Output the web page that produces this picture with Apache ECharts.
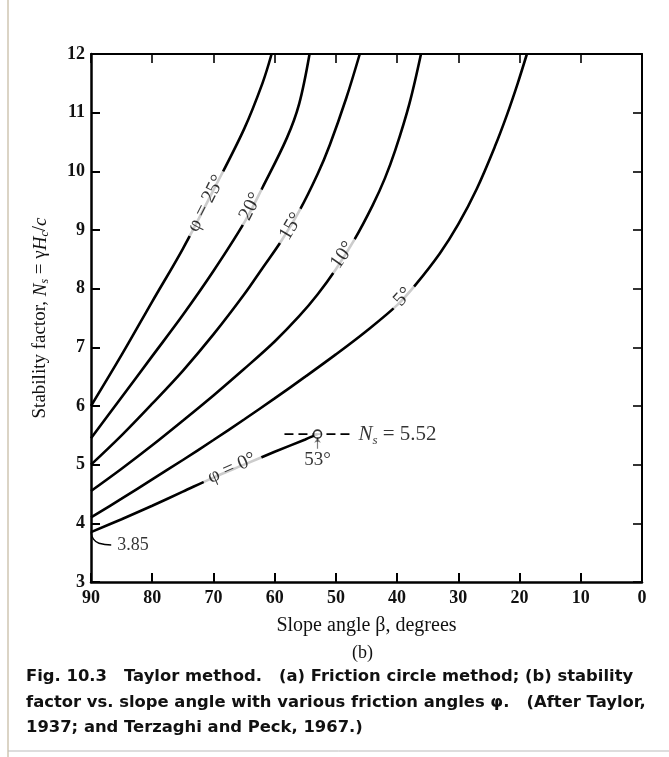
<!DOCTYPE html>
<html><head><meta charset="utf-8">
<script src="https://cdn.jsdelivr.net/npm/echarts@6/dist/echarts.min.js"></script>
<style>html,body{margin:0;padding:0;background:#fff}#c{width:669px;height:757px}</style>
</head><body><div id="c"></div>
<script>
// Slope angle beta (deg) vs stability factor Ns for friction angles phi
const phi0  = [[90,3.85],[85,4.07],[80,4.3],[75,4.54],[70,4.78],[65,5.0],[60,5.22],[55,5.43],[53,5.52]];
const phi5  = [[90,4.1],[85,4.42],[80,4.75],[75,5.08],[70,5.42],[65,5.77],[60,6.13],[55,6.5],[50,6.88],[45,7.28],[40,7.72],[37,8.065],[33,8.605],[30,9.1],[27,9.7],[24,10.43],[22,10.98],[20.3,11.5],[18.8,12.0]];
const phi10 = [[90,4.55],[85,4.93],[80,5.33],[75,5.75],[70,6.18],[65,6.63],[60,7.1],[56,7.53],[53,7.9],[50,8.33],[47,8.83],[44,9.42],[42,9.88],[40.3,10.36],[38,11.15],[36.1,12.0]];
const phi15 = [[90,5.0],[85,5.5],[80,6.04],[75,6.6],[70,7.22],[65,7.9],[62,8.35],[59,8.8],[56,9.32],[53,9.95],[51,10.45],[48.3,11.25],[46.1,12.0]];
const phi20 = [[90,5.45],[85,6.15],[80,6.85],[75,7.55],[70,8.3],[65,9.12],[62,9.72],[58,10.57],[56,11.15],[54.3,12.0]];
const phi25 = [[90,6.0],[85,6.87],[80,7.78],[75,8.68],[70,9.68],[65,10.72],[62,11.5],[60.5,12.0]];

const curveNames = ['φ = 0°','5°','10°','15°','20°','φ = 25°'];
const curveLabelAt = [[67.0,4.94],[39.0,7.86],[48.9,8.57],[57.3,9.06],[63.9,9.4],[71.2,9.45]];
const curveLabelAngle = [24,48,55,59,63,63];

const criticalPoint = [53,5.52];
const criticalDash = [[58.4,5.52],[47.3,5.52]];
const angleText = '53°';
const angleArrow = [[53,5.27],[53,5.46]];
const angleTextAt = [53,5.08];
const startText = '3.85';
const startLeader = [[90,3.85],[89.6,3.73],[88.7,3.66],[86.7,3.63]];

const xTitle = 'Slope angle β, degrees';
const yTitle = 'Stability factor, {i|N}{s|s} = γ{i|H}{s|c}/{i|c}';
const panelTag = '(b)';
const caption = [
  'Fig. 10.3   Taylor method.   (a) Friction circle method; (b) stability',
  'factor vs. slope angle with various friction angles φ.   (After Taylor,',
  '1937; and Terzaghi and Peck, 1967.)'
];

const serif = '"Liberation Serif","DejaVu Serif",serif';
const capFont = 'bold 16.4px "DejaVu Sans","Liberation Sans",sans-serif';
const chart = echarts.init(document.getElementById('c'), null, {renderer:'canvas'});
const curves = [phi0,phi5,phi10,phi15,phi20,phi25];

const series = [];
curves.forEach((d,i)=>{
  series.push({type:'line', data:d, smooth:0.35, showSymbol:false, silent:true,
    lineStyle:{color:'#000', width:2.6}, z:2});
});
series.push({type:'scatter', silent:true, z:6, symbolSize:0,
  data: curveLabelAt.map((p,i)=>({value:p, label:{rotate:curveLabelAngle[i], formatter:curveNames[i]}})),
  label:{show:true, position:'inside', fontFamily:serif, fontSize:20, color:'#000', backgroundColor:'#fff', padding:[0,6]}
});
series.push({type:'line', data:criticalDash, showSymbol:false, silent:true, z:3,
  lineStyle:{color:'#000', width:1.6, type:[9,5]}});
series.push({type:'scatter', data:[criticalPoint], symbol:'circle', symbolSize:8, silent:true, z:7,
  itemStyle:{color:'#fff', borderColor:'#000', borderWidth:1.6}});
series.push({type:'scatter', data:[criticalDash[1]], symbolSize:0, silent:true, z:7,
  label:{show:true, position:'right', distance:6, formatter:'{i|N}{s|s}{t| = 5.52}',
    rich:{i:{fontFamily:serif, fontStyle:'italic', fontSize:21, color:'#000'},
          s:{fontFamily:serif, fontStyle:'italic', fontSize:13, color:'#000', padding:[13,0,0,0]},
          t:{fontFamily:serif, fontSize:21, color:'#000'}}}});
series.push({type:'lines', coordinateSystem:'cartesian2d', silent:true, z:6,
  data:[{coords:angleArrow}], symbol:['none','arrow'], symbolSize:5,
  lineStyle:{color:'#000', width:1.2}});
series.push({type:'scatter', data:[angleTextAt], symbolSize:0, silent:true, z:7,
  label:{show:true, position:'inside', formatter:angleText, fontFamily:serif, fontSize:19, color:'#000'}});
series.push({type:'line', data:startLeader, smooth:0.5, showSymbol:false, silent:true, z:3,
  lineStyle:{color:'#000', width:1.4}});
series.push({type:'scatter', data:[startLeader[startLeader.length-1]], symbolSize:0, silent:true, z:7,
  label:{show:true, position:'right', distance:6, formatter:startText, fontFamily:serif, fontSize:18, color:'#000'}});

const axisLabelStyle = {fontFamily:serif, fontSize:18, fontWeight:'bold', color:'#111'};
chart.setOption({
  backgroundColor:'#fff',
  animation:false,
  grid:{left:91, right:27, top:54, bottom:175},
  xAxis:[
    {type:'value', min:0, max:90, interval:10, inverse:true, position:'bottom',
     axisLine:{onZero:false, lineStyle:{color:'#000', width:2.5}}, axisTick:{inside:true, length:9, lineStyle:{color:'#000', width:2}},
     axisLabel:{...axisLabelStyle, margin:7}, splitLine:{show:false},
     name:xTitle, nameLocation:'middle', nameGap:34,
     nameTextStyle:{fontFamily:serif, fontSize:20, color:'#111'}},
    {type:'value', min:0, max:90, interval:10, inverse:true, position:'top',
     axisLine:{show:true, onZero:false, lineStyle:{color:'#000', width:2}}, axisTick:{inside:true, length:9, lineStyle:{color:'#000', width:1.6}},
     axisLabel:{show:false}, splitLine:{show:false}}
  ],
  yAxis:[
    {type:'value', min:3, max:12, interval:1, position:'left',
     axisLine:{show:true, onZero:false, lineStyle:{color:'#000', width:2.5}}, axisTick:{show:true, inside:true, length:9, lineStyle:{color:'#000', width:2}},
     axisLabel:{...axisLabelStyle, margin:6}, splitLine:{show:false},
     name:yTitle, nameLocation:'middle', nameGap:40, nameRotate:90,
     nameTextStyle:{fontFamily:serif, fontSize:19, color:'#111',
       rich:{i:{fontFamily:serif, fontStyle:'italic', fontSize:19, color:'#111'},
             s:{fontFamily:serif, fontStyle:'italic', fontSize:12, color:'#111', padding:[9,0,0,0]}}}},
    {type:'value', min:3, max:12, interval:1, position:'right',
     axisLine:{show:true, onZero:false, lineStyle:{color:'#000', width:2}}, axisTick:{show:true, inside:true, length:9, lineStyle:{color:'#000', width:1.6}},
     axisLabel:{show:false}, splitLine:{show:false}}
  ],
  graphic:[
    {type:'text', left:352, top:644, style:{text:panelTag, font:'18px '+serif, fill:'#111'}},
    {type:'text', left:26, top:669, style:{text:caption[0], font:capFont, fill:'#111'}},
    {type:'text', left:26, top:695, style:{text:caption[1], font:capFont, fill:'#111'}},
    {type:'text', left:26, top:720, style:{text:caption[2], font:capFont, fill:'#111'}},
    {type:'line', shape:{x1:8,y1:0,x2:8,y2:757}, style:{stroke:'#cfc6b2', lineWidth:1.5}},
    {type:'line', shape:{x1:8,y1:751,x2:669,y2:751}, style:{stroke:'#bbb', lineWidth:1}}
  ],
  series: series
});
</script></body></html>
